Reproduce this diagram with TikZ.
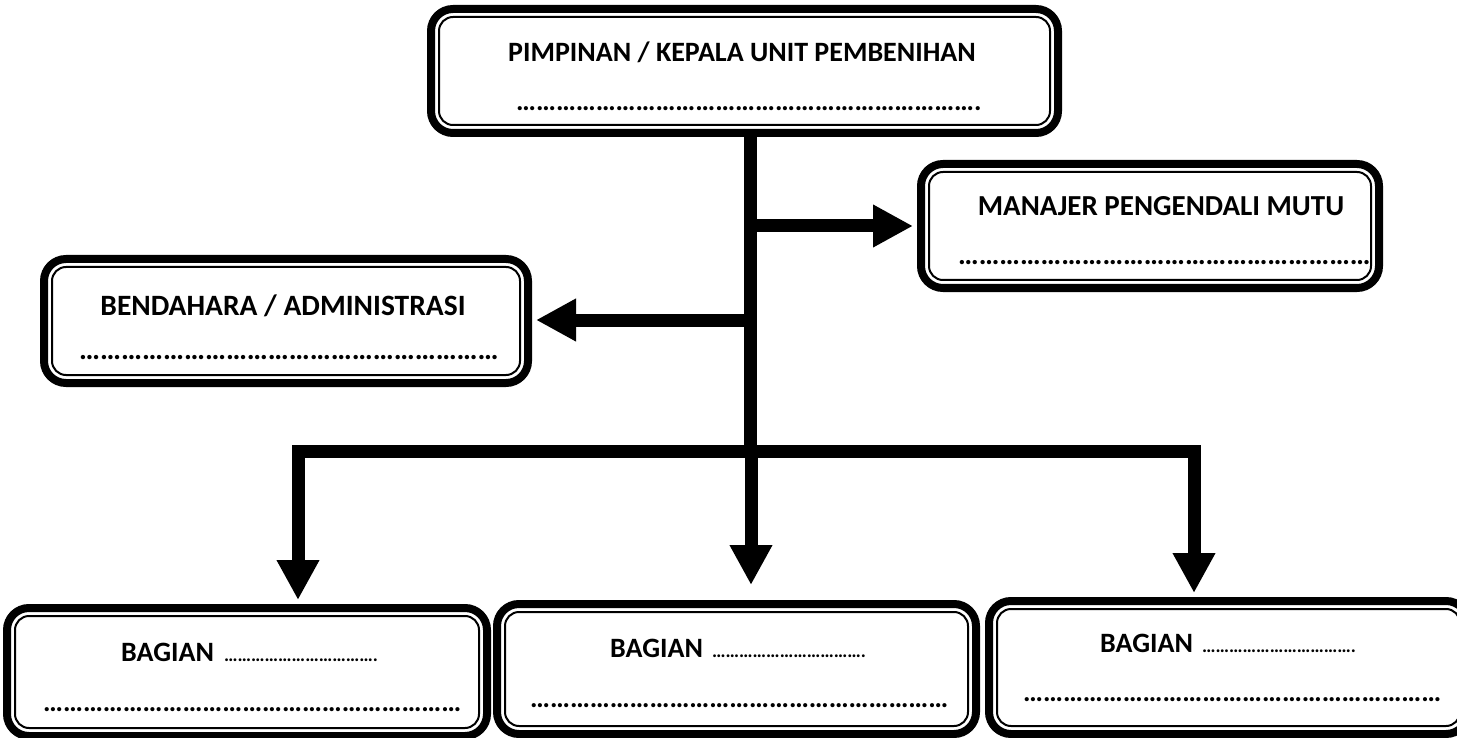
\documentclass[tikz,border=0pt]{standalone}
\usepackage{fontspec}
\setmainfont{Carlito}
\usetikzlibrary{arrows.meta,calc}
\newcommand\dotsrun[1]{\foreach\i in {1,...,#1}{…}}
\tikzset{
  obox/.style={draw, line width=8pt, rounded corners=22pt, inner sep=0pt, fill=white},
  ibox/.style={draw, line width=2pt, rounded corners=14pt},
  ttl/.style={font=\bfseries\fontsize{28}{30}\selectfont, inner sep=0pt, anchor=base},
  dts/.style={font=\bfseries\fontsize{28}{30}\selectfont, inner sep=0pt, anchor=west},
  sdts/.style={font=\bfseries\fontsize{19}{21}\selectfont, inner sep=0pt, anchor=base west},
  conn/.style={line width=13pt},
  arr/.style={line width=13pt, -{Triangle[length=40pt,width=40pt]}},
}
% \mkbox{name}{x1}{y1}{x2}{y2}: outer extents in px (y down)
\newcommand\mkbox[5]{%
  \node[obox, minimum width=#4-#2-8, minimum height=#5-#3-8] (#1) at ({(#2+#4)/2},{(#3+#5)/2}) {};
  \path[ibox] ({#2+12},{#3+12}) rectangle ({#4-12},{#5-12});
}
\begin{document}
\begin{tikzpicture}[x=1pt,y=-1pt]
\useasboundingbox (0,0) rectangle (1457,738);
\fill[white] (0,0) rectangle (1457,738);

\coordinate (tb) at (750.5,451.5);
\coordinate (d1) at (298,451.5);
\coordinate (d2) at (751,451.5);
\coordinate (d3) at (1194,451.5);
\coordinate (jm) at (750.5,226);
\coordinate (jb) at (750.5,320);

\mkbox{top}{427}{5}{1062}{137}
\mkbox{man}{917}{160}{1383}{292}
\mkbox{ben}{40}{255}{532}{387}
\mkbox{bA}{3}{604}{491}{740}
\mkbox{bB}{493}{600}{980}{738}
\mkbox{bC}{985}{597}{1472}{738}

\draw[conn] (top.south -| tb) -- (tb);
\draw[conn, line cap=rect] (d1) -- (d3);
\draw[arr] (jm) -- ([xshift=-4pt]man.west |- jm);
\draw[arr] (jb) -- ([xshift=4pt]ben.east |- jb);
\draw[arr] (d1) -- ([yshift=4pt]d1 |- bA.north);
\draw[arr] (d2) -- ([yshift=15pt]d2 |- bB.north);
\draw[arr] (d3) -- ([yshift=4pt]d3 |- bC.north);

% texts
\node[ttl] (tTop) at (742,62) {PIMPINAN / KEPALA UNIT PEMBENIHAN};
\node[dts] (dTop) at (516,109) {\dotsrun{23}.};
\node[ttl, font=\bfseries\fontsize{29}{31}\selectfont] (tMan) at (1161,216) {MANAJER PENGENDALI MUTU};
\node[dts, font=\bfseries\fontsize{29}{31}\selectfont] (dMan) at (958,263) {\dotsrun{20}};
\node[ttl, font=\bfseries\fontsize{29.5}{31}\selectfont] (tBen) at (283,316) {BENDAHARA / ADMINISTRASI};
\node[dts, font=\bfseries\fontsize{29.5}{31}\selectfont] (dBen) at (79,358) {\dotsrun{20}};

\node[ttl, anchor=base west] (tA) at (121,661) {BAGIAN};
\node[sdts] (sA) at (224,661) {\dotsrun{11}.};
\node[dts] (dA) at (43,710) {\dotsrun{21}};
\node[ttl, anchor=base west] (tB) at (610,657) {BAGIAN};
\node[sdts] (sB) at (712,657) {\dotsrun{11}.};
\node[dts] (dB) at (530,706) {\dotsrun{21}};
\node[ttl, anchor=base west] (tC) at (1100,652) {BAGIAN};
\node[sdts] (sC) at (1202,652) {\dotsrun{11}.};
\node[dts] (dC) at (1023,700) {\dotsrun{21}};
\end{tikzpicture}
\end{document}
